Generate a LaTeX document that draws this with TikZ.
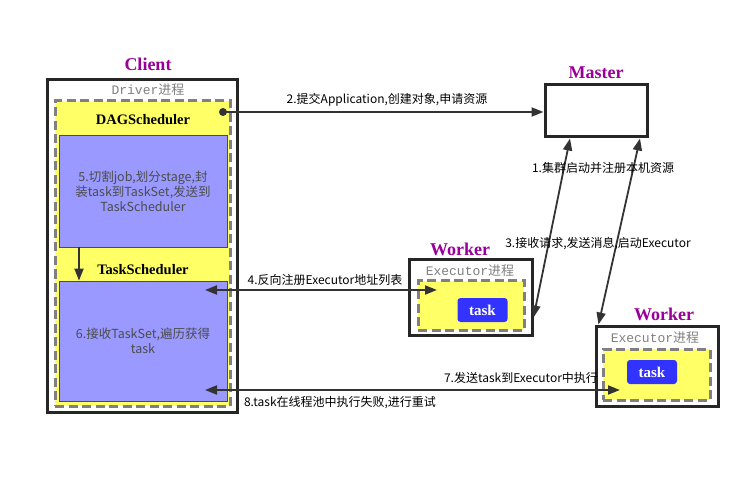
\documentclass[tikz,border=0pt]{standalone}
\usepackage{fontspec}
\setmainfont{Noto Sans CJK SC}
\setmonofont{Liberation Mono}
\newfontfamily\titlefont{Liberation Serif}
\newfontfamily\cjkmono{Noto Sans CJK SC}
\usepackage{xcolor}
\usetikzlibrary{arrows.meta}

\definecolor{procyellow}{HTML}{FFFF66}
\definecolor{stageblue}{HTML}{9999FF}
\definecolor{taskblue}{HTML}{3333FF}
\definecolor{titlepurple}{HTML}{990099}
\definecolor{linegray}{HTML}{333333}

\begin{document}
\begin{tikzpicture}[
    x=1pt, y=-1pt,
    >={Triangle[length=12pt,width=9pt]},
    conn/.style={draw=linegray, line width=1.8pt},
    title/.style={
        font=\titlefont\bfseries\fontsize{18}{20}\selectfont,
        text=titlepurple
    },
    host/.style={
        draw=black!85,
        line width=3pt,
        fill=white,
        inner sep=0pt
    },
    proc/.style={
        draw=gray,
        line width=3pt,
        dash pattern=on 9pt off 4.5pt,
        fill=procyellow,
        inner sep=0pt
    },
    stage/.style={
        draw=black!70,
        line width=0.8pt,
        fill=stageblue,
        inner sep=0pt,
        align=center,
        text=black!70,
        font=\fontsize{12.5}{15}\selectfont
    },
    taskbox/.style={
        fill=taskblue,
        rounded corners=3pt,
        minimum width=50pt,
        minimum height=24pt,
        inner sep=0pt,
        text=white,
        font=\titlefont\bfseries\fontsize{15}{16}\selectfont
    },
    proclabel/.style={
        text=gray,
        inner sep=0pt,
        font=\ttfamily\fontsize{13}{14}\selectfont
    },
    schedlabel/.style={
        inner sep=0pt,
        font=\titlefont\bfseries\fontsize{14.5}{15}\selectfont
    },
    msg/.style={
        inner sep=0pt,
        font=\fontsize{12}{13}\selectfont
    }
]

\useasboundingbox (0,0) rectangle (748,484);

% ==================== Client ====================
\node[title] (clienttitle) at (148,64) {Client};
\node[host, minimum width=190pt, minimum height=332pt] (client) at (142,246) {};
\node[proclabel] (driverlabel) at (148,90) {Driver{\cjkmono 进程}};
\node[proc, minimum width=175pt, minimum height=305pt] (driver) at (142.5,253.5) {};

\node[schedlabel] (daglabel) at (143,120) {DAGScheduler};
\node[stage, minimum width=168pt, minimum height=112pt] (dag) at (143,191)
{5.切割job,划分stage,封\\装task到TaskSet,发送到\\TaskScheduler};

\node[schedlabel] (tslabel) at (143,270) {TaskScheduler};
\node[stage, minimum width=168pt, minimum height=120pt] (ts) at (143,341)
{6.接收TaskSet,遍历获得\\task};

\draw[conn,->] ([xshift=-64pt]dag.south) -- ([xshift=-64pt]ts.north);

% ==================== Master ====================
\node[title] (mastertitle) at (596,73) {Master};
\node[host, minimum width=102pt, minimum height=52pt] (master) at (596,111) {};

% ==================== Worker 1 ====================
\node[title] (worker1title) at (460,249) {Worker};
\node[host, minimum width=123pt, minimum height=75pt] (worker1) at (470.5,297.5) {};
\node[proclabel] (exec1label) at (470,271) {Executor{\cjkmono 进程}};
\node[proc, minimum width=106pt, minimum height=49pt] (exec1) at (471,305.5) {};
\node[taskbox] (task1) at (482.5,310) {task};

% ==================== Worker 2 ====================
\node[title] (worker2title) at (664,314) {Worker};
\node[host, minimum width=122pt, minimum height=80pt] (worker2) at (657,366) {};
\node[proclabel] (exec2label) at (655,338) {Executor{\cjkmono 进程}};
\node[proc, minimum width=107pt, minimum height=51pt] (exec2) at (656.5,374.5) {};
\node[taskbox] (task2) at (652,372) {task};

% ==================== Messages ====================
\node[circle, fill=linegray, inner sep=0pt, minimum size=8pt] (submit) at (223,112) {};
\draw[conn,->] (submit.center) -- (submit.center -| master.west);
\node[msg] (msg2) at (387,100) {2.提交Application,创建对象,申请资源};

\draw[conn,<->] ([xshift=-26pt]master.south) -- ([yshift=-20pt]worker1.east);
\draw[conn,<->] ([xshift=44pt]master.south) -- ([xshift=4pt]worker2.north west);
\node[msg] (msg1) at (603,168) {1.集群启动并注册本机资源};
\node[msg] (msg3) at (598,244) {3.接收请求,发送消息,启动Executor};

\coordinate (reg4) at (205,290);
\coordinate (exec4) at (437,290);
\draw[conn,<->] (reg4) -- (exec4);
\node[msg] (msg4) at (325,280) {4.反向注册Executor地址列表};

\coordinate (retry8) at (205,390);
\coordinate (send7) at (620,390);
\draw[conn,<->] (retry8) -- (send7);
\node[msg] (msg7) at (521,378) {7.发送task到Executor中执行};
\node[msg] (msg8) at (340,403) {8.task在线程池中执行失败,进行重试};

\end{tikzpicture}
\end{document}
